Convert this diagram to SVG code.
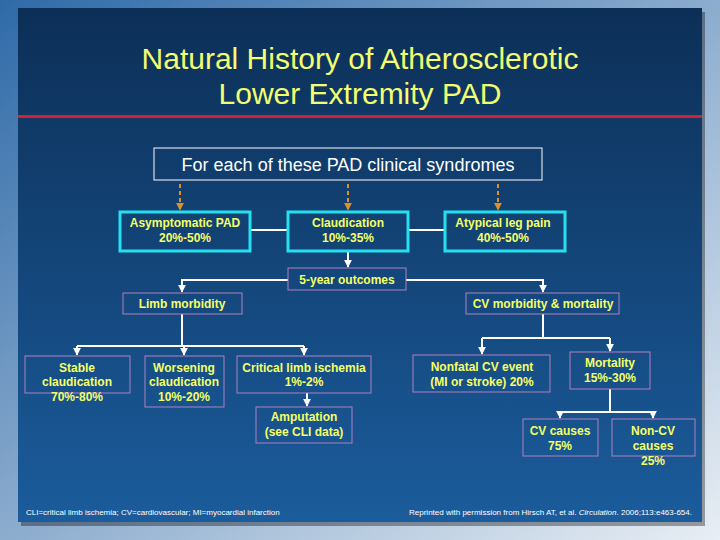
<svg xmlns="http://www.w3.org/2000/svg" width="720" height="540" viewBox="0 0 720 540">
<defs>
<linearGradient id="bg" x1="0" y1="0" x2="1" y2="1"><stop offset="0" stop-color="#2f6aa8"/><stop offset="1" stop-color="#e8eef4"/></linearGradient>
<linearGradient id="pn" x1="0" y1="0" x2="0" y2="1"><stop offset="0" stop-color="#0c2f57"/><stop offset="1" stop-color="#1b5c9c"/></linearGradient>
<marker id="w" viewBox="0 0 10 10" refX="9" refY="5" markerWidth="4" markerHeight="4" orient="auto"><path d="M0,0L10,5L0,10z" fill="#fff"/></marker>
<marker id="o" viewBox="0 0 10 10" refX="9" refY="5" markerWidth="4" markerHeight="4" orient="auto"><path d="M0,0L10,5L0,10z" fill="#e0902a"/></marker>
<style>
.t{font-family:"Liberation Sans",Arial,sans-serif;font-weight:bold;font-size:12px;fill:#f4ff66;text-anchor:middle}
.c{fill:none;stroke:#25e0f0;stroke-width:3}
.p{fill:none;stroke:#b080c0;stroke-width:1}
.l{fill:none;stroke:#fff;stroke-width:2}
.a{fill:none;stroke:#fff;stroke-width:2;marker-end:url(#w)}
.d{fill:none;stroke:#e0902a;stroke-width:2;stroke-dasharray:4,3;marker-end:url(#o)}
.f{font-family:"Liberation Sans",Arial,sans-serif;font-size:8px;fill:#fff}
</style>
</defs>
<rect width="720" height="540" fill="url(#bg)"/>
<rect x="21" y="12" width="684" height="514" fill="#000" opacity="0.35"/>
<rect x="18" y="8" width="684" height="514" fill="url(#pn)"/>
<text x="360" y="69" font-family="Liberation Sans,Arial,sans-serif" font-size="30" fill="#f4ff70" text-anchor="middle">Natural History of Atherosclerotic</text>
<text x="360" y="104" font-family="Liberation Sans,Arial,sans-serif" font-size="30" fill="#f4ff70" text-anchor="middle">Lower Extremity PAD</text>
<rect x="18" y="115" width="684" height="3" fill="#d42030"/>
<g id="connectors">
<path class="d" d="M180,184V210"/><path class="d" d="M348,184V210"/><path class="d" d="M498,184V210"/>
<path class="l" d="M250,230H288M408,230H445" stroke-width="1.5"/>
<path class="a" d="M348,251V267"/>
<path class="a" d="M288,280H182V292"/><path class="a" d="M406,280H543V292"/>
<path class="l" d="M182,314V346M77,346H304"/>
<path class="a" d="M77,346V355"/><path class="a" d="M184,346V355"/><path class="a" d="M304,346V355"/>
<path class="a" d="M307,393V406" stroke-width="1.5"/>
<path class="l" d="M543,314V338M482,338H610"/>
<path class="a" d="M482,338V354"/><path class="a" d="M610,338V351"/>
<path class="l" d="M610,389V412M560,412H653"/>
<path class="a" d="M560,412V418"/><path class="a" d="M653,412V418"/>
</g>
<g id="top"><rect x="154" y="148" width="388" height="32" fill="none" stroke="#fff" stroke-width="1"/><text x="348" y="171" font-family="Liberation Sans,Arial,sans-serif" font-size="18" fill="#fff" text-anchor="middle">For each of these PAD clinical syndromes</text></g>
<g id="asym"><rect class="c" x="120" y="212" width="130" height="39"/><text class="t" x="185" y="227">Asymptomatic PAD</text><text class="t" x="185" y="242">20%-50%</text></g>
<g id="claud"><rect class="c" x="288" y="212" width="120" height="39"/><text class="t" x="348" y="227">Claudication</text><text class="t" x="348" y="242">10%-35%</text></g>
<g id="atyp"><rect class="c" x="445" y="212" width="120" height="39"/><text class="t" x="503" y="227">Atypical leg pain</text><text class="t" x="503" y="242">40%-50%</text></g>
<g id="five"><rect class="p" x="288" y="268" width="118" height="22"/><text class="t" x="347" y="284">5-year outcomes</text></g>
<g id="limb"><rect class="p" x="123" y="293" width="119" height="21"/><text class="t" x="182" y="308">Limb morbidity</text></g>
<g id="cv"><rect class="p" x="466" y="293" width="153" height="21"/><text class="t" x="543" y="308">CV morbidity &amp; mortality</text></g>
<g id="stable"><rect class="p" x="25" y="356" width="105" height="37"/><text class="t" x="77" y="372">Stable</text><text class="t" x="77" y="386">claudication</text><text class="t" x="77" y="401">70%-80%</text></g>
<g id="worse"><rect class="p" x="145" y="356" width="79" height="51"/><text class="t" x="184" y="372">Worsening</text><text class="t" x="184" y="386">claudication</text><text class="t" x="184" y="401">10%-20%</text></g>
<g id="cli"><rect class="p" x="237" y="356" width="134" height="37"/><text class="t" x="304" y="372">Critical limb ischemia</text><text class="t" x="304" y="386">1%-2%</text></g>
<g id="amp"><rect class="p" x="256" y="407" width="96" height="36"/><text class="t" x="304" y="421">Amputation</text><text class="t" x="304" y="436">(see CLI data)</text></g>
<g id="nonfatal"><rect class="p" x="413" y="355" width="137" height="37"/><text class="t" x="482" y="371">Nonfatal CV event</text><text class="t" x="482" y="386">(MI or stroke) 20%</text></g>
<g id="mort"><rect class="p" x="570" y="352" width="80" height="37"/><text class="t" x="610" y="367">Mortality</text><text class="t" x="610" y="382">15%-30%</text></g>
<g id="cvc"><rect class="p" x="523" y="419" width="75" height="37"/><text class="t" x="560" y="435">CV causes</text><text class="t" x="560" y="450">75%</text></g>
<g id="noncv"><rect class="p" x="612" y="419" width="83" height="37"/><text class="t" x="653" y="435">Non-CV</text><text class="t" x="653" y="450">causes</text><text class="t" x="653" y="465">25%</text></g>
<text class="f" x="26" y="515">CLI=critical limb ischemia; CV=cardiovascular; MI=myocardial infarction</text>
<text class="f" x="692" y="515" text-anchor="end">Reprinted with permission from Hirsch AT, et al. <tspan font-style="italic">Circulation</tspan>. 2006;113:e463-654.</text>
</svg>
